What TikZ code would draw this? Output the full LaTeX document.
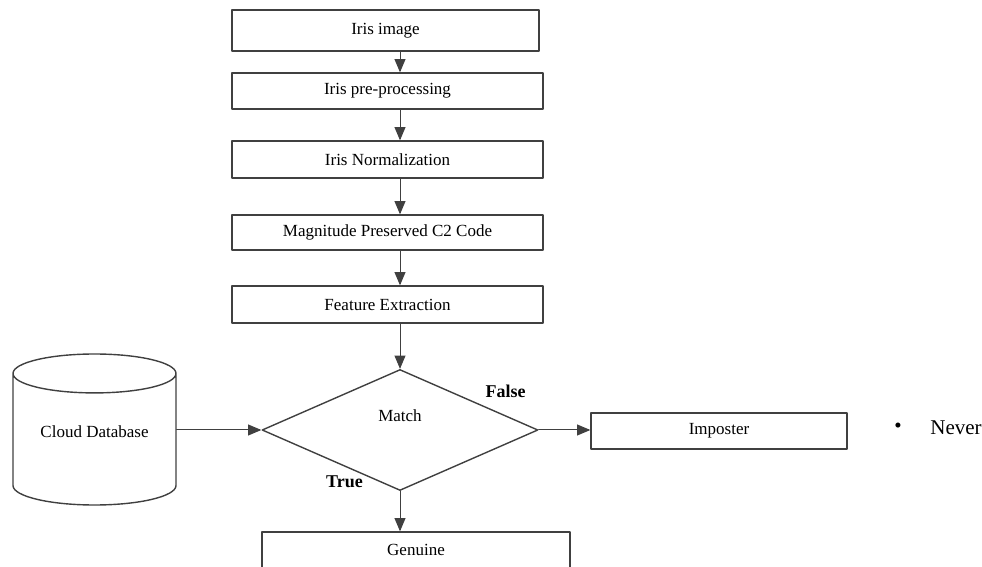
\documentclass[tikz,border=0pt]{standalone}
\usepackage{fontspec}
\setmainfont{Liberation Serif}
\usetikzlibrary{arrows,shapes.geometric}

\begin{document}
\begin{tikzpicture}[line cap=round,line join=round,>=triangle 45,x=0.5pt,y=-0.5pt,
	box/.style={draw=black!75,line width=0.7pt,rectangle,inner sep=0pt,minimum width=155.5pt,font=\fontsize{8.5}{10}\selectfont},
	flow/.style={->,line width=0.5pt,draw=black!75}]
		\useasboundingbox (0,0) rectangle (982,567);
		\clip (0,0) rectangle (982,567);
		% main chain
		\node[box,minimum width=153.5pt,minimum height=20.5pt] (img) at (385.5,30.5) {Iris image};
		\node[box,minimum height=18pt] (pre) at (387.5,91) {Iris pre-processing};
		\node[box,minimum height=18.5pt] (norm) at (387.5,159.5) {Iris Normalization};
		\node[box,minimum height=17.5pt] (mag) at (387.5,232.5) {Magnitude Preserved C2 Code};
		\node[box,minimum height=18.5pt] (feat) at (387.5,304.5) {Feature Extraction};
		\node[box,diamond,minimum width=138pt,minimum height=60.5pt,
			label={[font=\fontsize{8.5}{10}\selectfont,yshift=7pt]center:Match}] (match) at (400,430) {};
		\node[box,cylinder,shape border rotate=90,aspect=0.36,minimum width=81.5pt,minimum height=75.5pt,anchor=shape center] (db) at (94.5,429.5) {\raisebox{8pt}{Cloud Database}};
		\node[box,minimum width=128pt,minimum height=18pt] (imp) at (719,431) {Imposter};
		\node[box,minimum width=154pt,minimum height=18pt] (gen) at (416,550) {Genuine};
		% arrows
		\draw[flow] (match.north |- img.south) -- (match.north |- pre.north);
		\draw[flow] (match.north |- pre.south) -- (match.north |- norm.north);
		\draw[flow] (match.north |- norm.south) -- (match.north |- mag.north);
		\draw[flow] (match.north |- mag.south) -- (match.north |- feat.north);
		\draw[flow] (match.north |- feat.south) -- (match.north);
		\draw[flow] (db.east |- match.west) -- (match.west);
		\draw[flow] (match.east) -- (match.east -| imp.west);
		\draw[flow] (match.south) -- (match.south |- gen.north);
		% labels
		\node[font=\bfseries\fontsize{9}{11}\selectfont] (false) at (505.5,391) {False};
		\node[font=\bfseries\fontsize{9}{11}\selectfont] (true) at (344.5,482) {True};
		\node[font=\fontsize{10.5}{12}\selectfont] (dot) at (898,428) {\textbullet};
		\node[font=\fontsize{10.5}{12}\selectfont,anchor=west,inner sep=0pt] (never) at (930,428) {Never};
	\end{tikzpicture}
\end{document}
